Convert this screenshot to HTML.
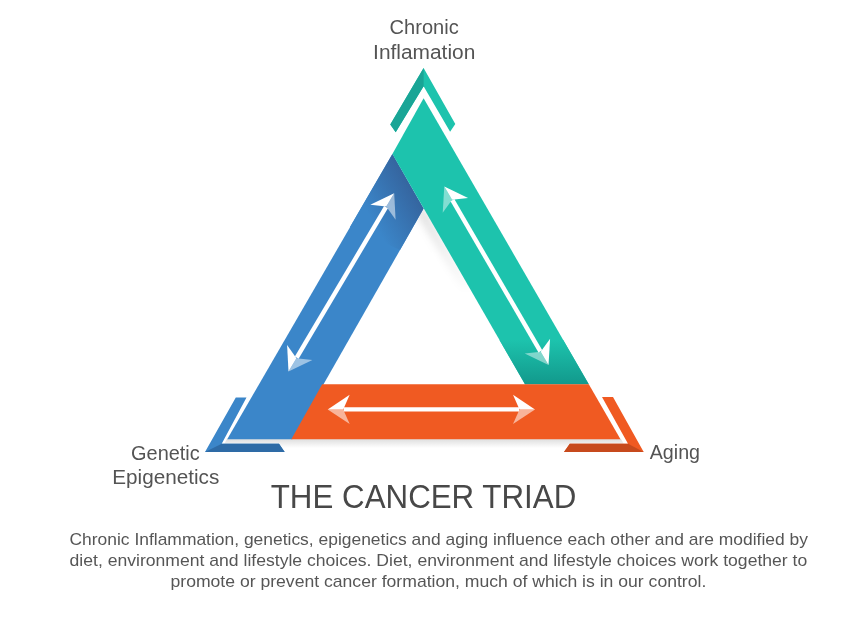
<!DOCTYPE html>
<html lang="en"><head><meta charset="utf-8"><title>The Cancer Triad</title>
<style>
html,body{margin:0;padding:0;background:#fff;}
body{width:841px;height:631px;overflow:hidden;font-family:"Liberation Sans",sans-serif;}
svg{display:block}
text{font-family:"Liberation Sans",sans-serif;}
</style></head><body>
<svg width="841" height="631" viewBox="0 0 841 631">
<defs>
<linearGradient id="gb" gradientUnits="userSpaceOnUse" x1="408" y1="181" x2="364" y2="206.5">
<stop offset="0" stop-color="#35659f"/><stop offset="1" stop-color="#3b86c9"/></linearGradient>
<linearGradient id="gt" gradientUnits="userSpaceOnUse" x1="0" y1="340" x2="0" y2="384">
<stop offset="0" stop-color="#1dc3ad"/><stop offset="1" stop-color="#12998c"/></linearGradient>
<linearGradient id="gs" gradientUnits="userSpaceOnUse" x1="0" y1="439" x2="0" y2="448">
<stop offset="0" stop-color="#000" stop-opacity=".13"/><stop offset="1" stop-color="#000" stop-opacity="0"/></linearGradient>
<filter id="bl" x="-50%" y="-50%" width="200%" height="200%"><feGaussianBlur stdDeviation="3.5"/></filter>
<linearGradient id="gf" gradientUnits="userSpaceOnUse" x1="0" y1="205" x2="0" y2="300">
<stop offset="0" stop-color="#fff"/><stop offset="1" stop-color="#000"/></linearGradient>
<mask id="fade" maskUnits="userSpaceOnUse" x="380" y="180" width="140" height="140"><rect x="380" y="180" width="140" height="140" fill="url(#gf)"/></mask>
</defs>
<rect width="841" height="631" fill="#fff"/>
<!-- shadows -->
<polygon points="227,439 621,439 626,448 222,448" fill="url(#gs)"/>
<polygon points="423.6,206 472,290 462,290 416,214" fill="#000" fill-opacity=".12" filter="url(#bl)" mask="url(#fade)"/>
<!-- chevrons -->
<polygon points="423.6,68.1 455.3,123.9 450.1,131.8 423.6,86.2 395.7,132.2 390.3,124.4" fill="#1dc3ad"/>
<polygon points="423.6,68.1 390.3,124.4 395.7,132.2 423.6,86.2" fill="#19a596"/>
<polygon points="205,452 235.8,397.5 246.5,397.5 221.7,443.7 279,443.7 284.7,452" fill="#3b86c9"/>
<polygon points="205,452 221.7,443.7 279,443.7 284.7,452" fill="#2e6ba6"/>
<polygon points="643.7,452 613,397 602,397 628,443.8 569.8,443.8 564,452" fill="#f05a22"/>
<polygon points="643.7,452 628,443.8 569.8,443.8 564,452" fill="#c74a1d"/>
<!-- bands -->
<polygon points="227.2,439.3 392.4,154 423.6,208.6 292.2,439.3" fill="#3b86c9"/>
<polygon points="392.4,154 423.6,208.6 400,250 350,227" fill="url(#gb)"/>
<polygon points="423.6,98.3 392.4,154 525,384.2 588.8,384.2" fill="#1dc3ad"/>
<polygon points="499.5,340 563.2,340 588.8,384.2 525,384.2" fill="url(#gt)"/>
<polygon points="322.2,384.2 588.8,384.2 620.5,439.3 291.3,439.3" fill="#f05a22"/>
<line x1="386.0" y1="207.1" x2="296.7" y2="357.7" stroke="#fff" stroke-width="4.4"/><polygon points="394.2,193.3 370.3,204.7 386.3,206.6" fill="#fff"/><polygon points="394.2,193.3 395.6,219.7 386.3,206.6" fill="#fff" fill-opacity=".5"/><polygon points="288.5,371.5 287.1,345.1 296.4,358.2" fill="#fff"/><polygon points="288.5,371.5 312.4,360.1 296.4,358.2" fill="#fff" fill-opacity=".5"/><line x1="452.4" y1="200.2" x2="540.4" y2="351.3" stroke="#fff" stroke-width="4.4"/><polygon points="444.3,186.4 468.1,198.0 452.1,199.8" fill="#fff"/><polygon points="444.3,186.4 442.7,212.8 452.1,199.8" fill="#fff" fill-opacity=".45"/><polygon points="548.5,365.1 550.1,338.7 540.7,351.7" fill="#fff"/><polygon points="548.5,365.1 524.7,353.5 540.7,351.7" fill="#fff" fill-opacity=".45"/><line x1="343.7" y1="409.4" x2="519.0" y2="409.4" stroke="#fff" stroke-width="4.4"/><polygon points="327.7,409.4 349.7,394.7 343.2,409.4" fill="#fff"/><polygon points="327.7,409.4 349.7,424.1 343.2,409.4" fill="#fff" fill-opacity=".55"/><polygon points="535.0,409.4 513.0,394.7 519.5,409.4" fill="#fff"/><polygon points="535.0,409.4 513.0,424.1 519.5,409.4" fill="#fff" fill-opacity=".55"/>
<g opacity=".99">
<g fill="#525252" font-size="20" text-anchor="middle">
<text x="424.2" y="33.7" textLength="69.2" lengthAdjust="spacingAndGlyphs">Chronic</text>
<text x="424.2" y="58.5" textLength="102.2" lengthAdjust="spacingAndGlyphs">Inflamation</text>
<text x="165.4" y="459.9" textLength="68.7" lengthAdjust="spacingAndGlyphs">Genetic</text>
<text x="165.8" y="483.9" textLength="107" lengthAdjust="spacingAndGlyphs">Epigenetics</text>
<text x="674.9" y="459" textLength="50.3" lengthAdjust="spacingAndGlyphs">Aging</text>
</g>
<text x="423.5" y="508.4" font-size="33" fill="#464646" text-anchor="middle" textLength="305.5" lengthAdjust="spacingAndGlyphs">THE CANCER TRIAD</text>
<g fill="#545454" font-size="17" text-anchor="middle">
<text x="438.7" y="544.7" textLength="738.4" lengthAdjust="spacingAndGlyphs">Chronic Inflammation, genetics, epigenetics and aging influence each other and are modified by</text>
<text x="438.4" y="566.4" textLength="737.7" lengthAdjust="spacingAndGlyphs">diet, environment and lifestyle choices. Diet, environment and lifestyle choices work together to</text>
<text x="438.4" y="587.1" textLength="535.8" lengthAdjust="spacingAndGlyphs">promote or prevent cancer formation, much of which is in our control.</text>
</g>
</g>
</svg>
</body></html>
